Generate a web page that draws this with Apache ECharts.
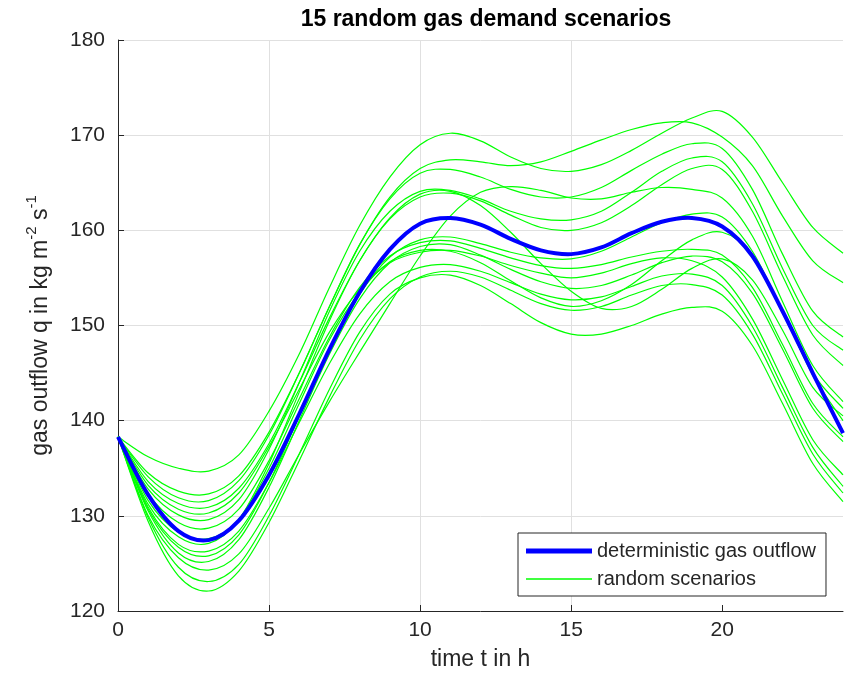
<!DOCTYPE html>
<html>
<head>
<meta charset="utf-8">
<title>15 random gas demand scenarios</title>
<script src="https://cdn.jsdelivr.net/npm/echarts@6/dist/echarts.min.js"></script>
<style>
  html, body { margin: 0; padding: 0; background: #fff; }
  #chart { width: 847px; height: 681px; }
</style>
</head>
<body>
<div id="chart"></div>
<script>
// hours 0..24
const hours = [0,1,2,3,4,5,6,7,8,9,10,11,12,13,14,15,16,17,18,19,20,21,22,23,24];

const deterministic = [138.3,132.2,128.4,127.45,129.5,134.3,140.7,147.5,153.5,158,160.7,161.3,160.6,159.1,157.9,157.5,158.2,159.7,160.9,161.3,160.4,157.3,151.5,145,138.7];

const scenario01 = [138.3,134.5,132.6,132.3,134.2,138.8,145,152,158.5,163.5,166.5,167.4,167.2,166.8,167.2,168.3,169.5,170.6,171.3,171.3,169.8,166.8,161.5,156.8,154.5];
const scenario02 = [138.3,136.2,135,134.7,136.4,141,147,154,160.5,165.6,169,170.2,169.4,167.7,166.5,166.2,166.9,168.4,170.2,171.8,172.5,169.8,165,160.3,157.6];
const scenario03 = [138.3,134.1,131.9,131.6,133.7,138.5,145,152,158.5,163.3,166,166.4,165.6,164.3,163.5,163.5,164.5,166.3,168,169.1,168.6,164.3,157.5,151.5,148.8];
const scenario04 = [138.3,132.8,130.1,129.6,131.7,137,144,151.5,157.8,162,164.1,164.2,163.3,162,161.2,161.1,162,164,166.2,167.6,167.2,162.8,156,150,147.4];
const scenario05 = [138.3,133.6,131.3,130.9,132.9,137.6,144,150.8,156.8,161.3,163.8,164.1,162.6,159.8,156.5,153.6,151.8,152,153.8,156,157,154.8,149.5,143.5,140.5];
const scenario06 = [138.3,131.2,127.8,127.1,129.6,135.5,143,150.5,156.8,161.2,163.5,163.9,163.1,161.6,160.3,160,160.8,162.6,164.8,166.5,166.4,162,155.2,149,145.8];
const scenario07 = [138.3,130,125.6,124.3,126,130.8,136.5,142,147.2,152.3,157.3,161.5,164,164.6,164.2,163.4,163.3,164,164.5,164.3,163.4,159.4,152.5,145.8,142];
const scenario08 = [138.3,130.7,126.7,125.8,128,133.5,140.5,147.5,153.3,157.2,159,159.3,158.6,157.7,157.1,157,157.8,159.3,160.8,161.7,161.4,157.8,151.5,145,141.3];
const scenario09 = [138.3,131.6,128.3,127.6,129.6,135,141.8,148.5,153.5,156.7,157.9,157.8,156.6,154.7,152.9,152,152.6,154.3,156.8,159,159.8,157.4,151.5,144.8,140];
const scenario10 = [138.3,132.3,129.3,128.7,130.7,135.8,142.3,148.8,154,157.3,158.7,158.9,158.1,157.1,156.3,156,156.4,157.2,157.8,158,157.4,154,148,141.8,138.3];
const scenario11 = [138.3,130.5,126.1,125.2,127.5,133,140,147,152.8,156.6,158.3,158.5,157.4,155.9,154.6,153.9,154.2,155.3,156.6,157.3,156.7,153.4,147.5,141.3,137.8];
const scenario12 = [138.3,133.2,130.7,130.3,132.4,137.3,143.3,149.3,153.8,156.6,157.7,157.9,157.3,156.3,155.5,155,155.5,156.5,157.1,156.8,155.1,150.7,144.3,138,134.3];
const scenario13 = [138.3,130.9,127,126.3,128.4,133.5,139.8,146,151.2,154.6,156.1,156.4,155.7,154.5,153.3,152.7,153,154.1,155.2,155.4,154.2,149.9,143.5,137.2,133.1];
const scenario14 = [138.3,129.4,123.7,122.1,124.2,129.3,135.8,142.5,148.5,152.8,155.1,155.7,155.1,153.7,152.3,151.6,152,153.2,154.2,154.3,153.2,149.1,142.8,136.5,132.4];
const scenario15 = [138.3,129.8,124.6,123.1,124.9,130,136.5,143.3,149.3,153.3,155,155.3,154.2,152.3,150.3,149.1,149.1,150,151.2,151.9,151.5,147.9,141.8,135.5,131.5];

const scenarios = [scenario01, scenario02, scenario03, scenario04, scenario05, scenario06, scenario07, scenario08,
  scenario09, scenario10, scenario11, scenario12, scenario13, scenario14, scenario15];

const xTicks = [0, 5, 10, 15, 20];
const axisColor = '#262626';
const font = 'Liberation Sans, Arial, Helvetica, sans-serif';

// Catmull-Rom through the pixel points the axes give us
function splinePath(pts) {
  let d = 'M' + pts[0][0] + ' ' + pts[0][1];
  for (let i = 0; i < pts.length - 1; i++) {
    const p0 = pts[Math.max(i - 1, 0)], p1 = pts[i], p2 = pts[i + 1], p3 = pts[Math.min(i + 2, pts.length - 1)];
    const c1x = p1[0] + (p2[0] - p0[0]) / 6, c1y = p1[1] + (p2[1] - p0[1]) / 6;
    const c2x = p2[0] - (p3[0] - p1[0]) / 6, c2y = p2[1] - (p3[1] - p1[1]) / 6;
    d += ' C' + c1x + ' ' + c1y + ' ' + c2x + ' ' + c2y + ' ' + p2[0] + ' ' + p2[1];
  }
  return d;
}

const curveSeries = (name, vals, color, width, z) => ({
  name,
  type: 'custom',
  silent: true,
  z,
  data: hours.map((h, i) => [h, vals[i]]),
  encode: { x: 0, y: 1 },
  renderItem: (params, api) => {
    if (params.dataIndex !== 0) return null;
    const pts = hours.map((h, i) => api.coord([h, vals[i]]));
    return {
      type: 'path',
      shape: { pathData: splinePath(pts) },
      style: { fill: null, stroke: color, lineWidth: width, lineJoin: 'round' }
    };
  }
});

const chart = echarts.init(document.getElementById('chart'));
chart.setOption({
  animation: false,
  backgroundColor: '#fff',
  title: {
    text: '15 random gas demand scenarios',
    left: 481,
    top: 3,
    textAlign: 'center',
    textStyle: { fontFamily: font, fontWeight: 'bold', fontSize: 23, color: '#000' }
  },
  grid: { left: 118, right: 4, top: 40, bottom: 70, containLabel: false },
  legend: {
    orient: 'vertical',
    left: 518,
    top: 533,
    padding: [8, 10, 7, 8],
    itemGap: 8,
    itemWidth: 66,
    itemHeight: 20,
    borderColor: axisColor,
    borderWidth: 1,
    backgroundColor: '#fff',
    textStyle: { fontFamily: font, fontSize: 20, color: axisColor },
    data: [
      { name: 'deterministic gas outflow', icon: 'path://M0,0 L10,0 L10,0.75 L0,0.75 Z', itemStyle: { color: '#0000ff' } },
      { name: 'random scenarios', icon: 'path://M0,0 L10,0 L10,0.2 L0,0.2 Z', itemStyle: { color: '#00ff00' } }
    ]
  },
  xAxis: {
    type: 'value',
    min: 0,
    max: 24,
    interval: 5,
    name: 'time t in h',
    nameLocation: 'middle',
    nameGap: 37,
    nameTextStyle: { fontFamily: font, fontSize: 23, color: axisColor },
    axisLine: { show: true, lineStyle: { color: axisColor, width: 1 } },
    axisTick: { show: true, inside: true, length: 6, lineStyle: { color: axisColor }, customValues: xTicks },
    axisLabel: { fontFamily: font, fontSize: 21, color: axisColor, margin: 9, customValues: xTicks },
    splitLine: { show: true, showMaxLine: false, lineStyle: { color: '#e0e0e0', width: 1 } }
  },
  yAxis: {
    type: 'value',
    min: 120,
    max: 180,
    interval: 10,
    name: '{a|gas outflow q in kg m}{s|-2}{a| s}{s|-1}',
    nameLocation: 'middle',
    nameGap: 66,
    nameTextStyle: {
      fontFamily: font, fontSize: 23, color: axisColor,
      rich: {
        a: { fontFamily: font, fontSize: 23, color: axisColor, lineHeight: 28, verticalAlign: 'bottom' },
        s: { fontFamily: font, fontSize: 15, color: axisColor, lineHeight: 28, verticalAlign: 'top' }
      }
    },
    axisLine: { show: true, lineStyle: { color: axisColor, width: 1 } },
    axisTick: { show: true, inside: true, length: 6, lineStyle: { color: axisColor } },
    axisLabel: { fontFamily: font, fontSize: 21, color: axisColor, margin: 13 },
    splitLine: { show: true, lineStyle: { color: '#e0e0e0', width: 1 } }
  },
  series: [
    ...scenarios.map(vals => curveSeries('random scenarios', vals, '#00ff00', 1.2, 2)),
    curveSeries('deterministic gas outflow', deterministic, '#0000ff', 4, 3)
  ]
});
</script>
</body>
</html>
